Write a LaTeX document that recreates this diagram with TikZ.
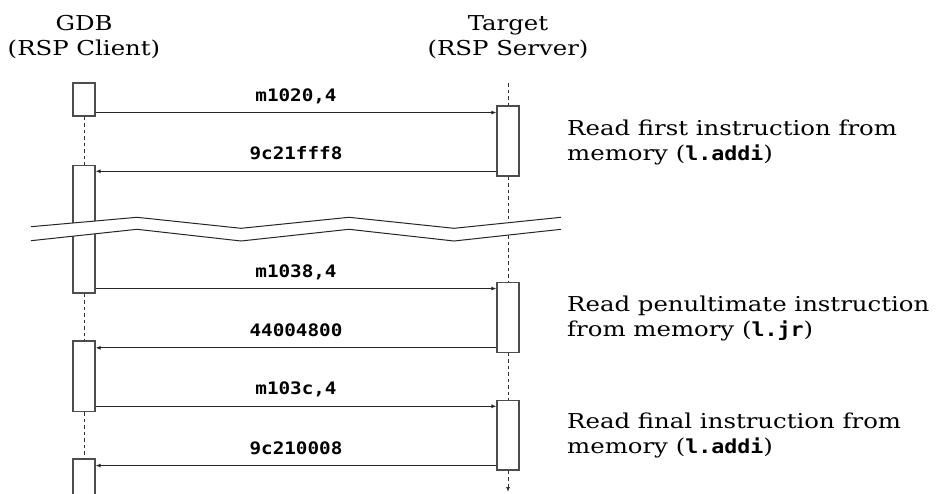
\documentclass[tikz,border=0pt]{standalone}
\usepackage{fontspec}
\setmainfont[FakeStretch=1.19]{DejaVu Serif}
\newfontfamily\codefont[FakeStretch=1.12]{DejaVu Sans Mono}
\usetikzlibrary{arrows.meta}
\begin{document}
\begin{tikzpicture}[x=1pt,y=-1pt,
  actbox/.style={draw=black!70, line width=1.1pt, fill=white, minimum width=22pt, inner sep=0pt},
  lifeline/.style={draw=black!80, line width=0.9pt, dash pattern=on 3.5pt off 3pt},
  msg/.style={draw=black!85, line width=1pt, -{Latex[length=5pt,width=4pt]}},
  lbl/.style={font=\codefont\bfseries\fontsize{17.2}{18}\selectfont, anchor=base, text=black},
  head/.style={font=\fontsize{20.5}{25}\selectfont, align=center, anchor=base},
  note/.style={font=\fontsize{20.5}{25}\selectfont, align=left, anchor=base west, inner sep=0pt},
  brk/.style={draw=black!85, line width=1pt}
]
\useasboundingbox (0,0) rectangle (943,493);
\newcommand{\cd}[1]{{\codefont\bfseries\fontsize{19.3}{25}\selectfont #1}}

% headers (base anchor = baseline of the last line)
\node[head] (gdb) at (84,55) {GDB\\(RSP Client)};
\node[head] (tgt) at (508,55) {Target\\(RSP Server)};

% lifeline end points
\coordinate (stop) at (508,83);
\coordinate (send) at (508,492);

% activation boxes
\node[actbox, minimum height=33pt]    (c1) at (84,99.5) {};
\node[actbox, minimum height=127.5pt] (c2) at (84,229.25) {};
\node[actbox, minimum height=70.7pt]  (c3) at (84,376.35) {};
\node[actbox, minimum height=46pt]    (c4) at (84,482) {};
\node[actbox, minimum height=70pt]    (s1) at (508,141) {};
\node[actbox, minimum height=69.6pt]  (s2) at (508,317.5) {};
\node[actbox, minimum height=69.3pt]  (s3) at (508,435.35) {};

\draw[lifeline] (stop) -- (s1.north);
\draw[lifeline] (s1.south) -- (s2.north);
\draw[lifeline] (s2.south) -- (s3.north);
\draw[lifeline, -{Latex[length=5pt,width=4pt]}] (s3.south) -- (send);
\draw[lifeline] (c1.south) -- (c2.north);
\draw[lifeline] (c2.south) -- (c3.north);
\draw[lifeline] (c3.south) -- (c4.north);

% messages
\coordinate (m1) at ([yshift=4pt]c1.south east);
\draw[msg] (m1) -- (m1 -| s1.west) node[lbl, midway, yshift=11.5pt] {m1020,4};
\coordinate (r1) at ([yshift=5.3pt]s1.south west);
\draw[msg] (r1) -- (r1 -| c2.east) node[lbl, midway, yshift=11.5pt] {9c21fff8};
\coordinate (m2) at ([yshift=5pt]c2.south east);
\draw[msg] (m2) -- (m2 -| s2.west) node[lbl, midway, yshift=11.5pt] {m1038,4};
\coordinate (r2) at ([yshift=5pt]s2.south west);
\draw[msg] (r2) -- (r2 -| c3.east) node[lbl, midway, yshift=11.5pt] {44004800};
\coordinate (m3) at ([yshift=6pt]c3.south east);
\draw[msg] (m3) -- (m3 -| s3.west) node[lbl, midway, yshift=11.5pt] {m103c,4};
\coordinate (r3) at ([yshift=5pt]s3.south west);
\draw[msg] (r3) -- (r3 -| c4.east) node[lbl, midway, yshift=11.5pt] {9c210008};

% break
\fill[white] (31,226.7) -- (137,217.3) -- (241,228.3) -- (349,217.3) -- (454,228.3) -- (561,217.3)
  -- (561,229.3) -- (454,241) -- (349,229.3) -- (241,241) -- (137,229.3) -- (31,240.7) -- cycle;
\draw[brk] (31,226.7) -- (137,217.3) -- (241,228.3) -- (349,217.3) -- (454,228.3) -- (561,217.3);
\draw[brk] (31,240.7) -- (137,229.3) -- (241,241) -- (349,229.3) -- (454,241) -- (561,229.3);

% notes (base anchor = baseline of the last line)
\node[note] (n1) at (567,160) {Read first instruction from\\memory (\cd{l.addi})};
\node[note] (n2) at (567,336.7) {Read penultimate instruction\\from memory (\cd{l.jr})};
\node[note] (n3) at (567,453.3) {Read final instruction from\\memory (\cd{l.addi})};
\end{tikzpicture}
\end{document}
